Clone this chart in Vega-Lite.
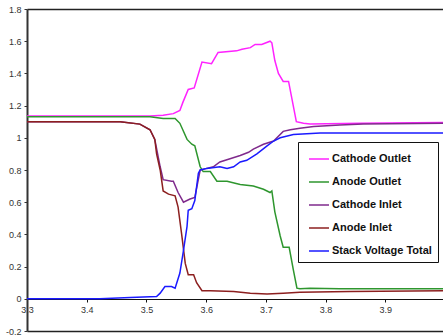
{
  "$schema": "https://vega.github.io/schema/vega-lite/v6.json",
  "autosize": "none",
  "width": 416,
  "height": 322,
  "padding": {"left": 27, "top": 9, "right": 0, "bottom": 4},
  "background": "white",
  "config": {
    "font": "Liberation Sans",
    "view": {"stroke": null}
  },
  "data": {
    "values": [
      {"s": "Cathode Outlet", "x": 3.300, "y": 1.135},
      {"s": "Cathode Outlet", "x": 3.464, "y": 1.135},
      {"s": "Cathode Outlet", "x": 3.506, "y": 1.135},
      {"s": "Cathode Outlet", "x": 3.528, "y": 1.14},
      {"s": "Cathode Outlet", "x": 3.545, "y": 1.15},
      {"s": "Cathode Outlet", "x": 3.556, "y": 1.17},
      {"s": "Cathode Outlet", "x": 3.561, "y": 1.22},
      {"s": "Cathode Outlet", "x": 3.570, "y": 1.30},
      {"s": "Cathode Outlet", "x": 3.580, "y": 1.31},
      {"s": "Cathode Outlet", "x": 3.593, "y": 1.47},
      {"s": "Cathode Outlet", "x": 3.609, "y": 1.46},
      {"s": "Cathode Outlet", "x": 3.620, "y": 1.53},
      {"s": "Cathode Outlet", "x": 3.651, "y": 1.54},
      {"s": "Cathode Outlet", "x": 3.660, "y": 1.55},
      {"s": "Cathode Outlet", "x": 3.674, "y": 1.56},
      {"s": "Cathode Outlet", "x": 3.682, "y": 1.58},
      {"s": "Cathode Outlet", "x": 3.693, "y": 1.58},
      {"s": "Cathode Outlet", "x": 3.707, "y": 1.60},
      {"s": "Cathode Outlet", "x": 3.710, "y": 1.59},
      {"s": "Cathode Outlet", "x": 3.715, "y": 1.48},
      {"s": "Cathode Outlet", "x": 3.721, "y": 1.40},
      {"s": "Cathode Outlet", "x": 3.729, "y": 1.35},
      {"s": "Cathode Outlet", "x": 3.738, "y": 1.35},
      {"s": "Cathode Outlet", "x": 3.751, "y": 1.10},
      {"s": "Cathode Outlet", "x": 3.763, "y": 1.09},
      {"s": "Cathode Outlet", "x": 3.774, "y": 1.085},
      {"s": "Cathode Outlet", "x": 3.858, "y": 1.09},
      {"s": "Cathode Outlet", "x": 3.997, "y": 1.095},

      {"s": "Anode Outlet", "x": 3.300, "y": 1.13},
      {"s": "Anode Outlet", "x": 3.506, "y": 1.13},
      {"s": "Anode Outlet", "x": 3.528, "y": 1.12},
      {"s": "Anode Outlet", "x": 3.548, "y": 1.12},
      {"s": "Anode Outlet", "x": 3.556, "y": 1.09},
      {"s": "Anode Outlet", "x": 3.568, "y": 0.99},
      {"s": "Anode Outlet", "x": 3.576, "y": 0.96},
      {"s": "Anode Outlet", "x": 3.581, "y": 0.95},
      {"s": "Anode Outlet", "x": 3.590, "y": 0.82},
      {"s": "Anode Outlet", "x": 3.595, "y": 0.79},
      {"s": "Anode Outlet", "x": 3.607, "y": 0.79},
      {"s": "Anode Outlet", "x": 3.618, "y": 0.73},
      {"s": "Anode Outlet", "x": 3.635, "y": 0.73},
      {"s": "Anode Outlet", "x": 3.657, "y": 0.71},
      {"s": "Anode Outlet", "x": 3.679, "y": 0.70},
      {"s": "Anode Outlet", "x": 3.696, "y": 0.68},
      {"s": "Anode Outlet", "x": 3.707, "y": 0.66},
      {"s": "Anode Outlet", "x": 3.710, "y": 0.67},
      {"s": "Anode Outlet", "x": 3.715, "y": 0.54},
      {"s": "Anode Outlet", "x": 3.724, "y": 0.39},
      {"s": "Anode Outlet", "x": 3.729, "y": 0.32},
      {"s": "Anode Outlet", "x": 3.739, "y": 0.32},
      {"s": "Anode Outlet", "x": 3.746, "y": 0.18},
      {"s": "Anode Outlet", "x": 3.752, "y": 0.066},
      {"s": "Anode Outlet", "x": 3.757, "y": 0.062},
      {"s": "Anode Outlet", "x": 3.774, "y": 0.065},
      {"s": "Anode Outlet", "x": 3.824, "y": 0.062},
      {"s": "Anode Outlet", "x": 3.997, "y": 0.062},

      {"s": "Cathode Inlet", "x": 3.300, "y": 1.10},
      {"s": "Cathode Inlet", "x": 3.456, "y": 1.10},
      {"s": "Cathode Inlet", "x": 3.489, "y": 1.085},
      {"s": "Cathode Inlet", "x": 3.506, "y": 1.05},
      {"s": "Cathode Inlet", "x": 3.514, "y": 0.99},
      {"s": "Cathode Inlet", "x": 3.523, "y": 0.82},
      {"s": "Cathode Inlet", "x": 3.528, "y": 0.74},
      {"s": "Cathode Inlet", "x": 3.542, "y": 0.73},
      {"s": "Cathode Inlet", "x": 3.545, "y": 0.73},
      {"s": "Cathode Inlet", "x": 3.553, "y": 0.66},
      {"s": "Cathode Inlet", "x": 3.562, "y": 0.60},
      {"s": "Cathode Inlet", "x": 3.573, "y": 0.62},
      {"s": "Cathode Inlet", "x": 3.581, "y": 0.63},
      {"s": "Cathode Inlet", "x": 3.590, "y": 0.80},
      {"s": "Cathode Inlet", "x": 3.601, "y": 0.81},
      {"s": "Cathode Inlet", "x": 3.612, "y": 0.82},
      {"s": "Cathode Inlet", "x": 3.623, "y": 0.85},
      {"s": "Cathode Inlet", "x": 3.640, "y": 0.87},
      {"s": "Cathode Inlet", "x": 3.657, "y": 0.89},
      {"s": "Cathode Inlet", "x": 3.671, "y": 0.91},
      {"s": "Cathode Inlet", "x": 3.679, "y": 0.93},
      {"s": "Cathode Inlet", "x": 3.696, "y": 0.96},
      {"s": "Cathode Inlet", "x": 3.713, "y": 0.98},
      {"s": "Cathode Inlet", "x": 3.729, "y": 1.04},
      {"s": "Cathode Inlet", "x": 3.741, "y": 1.05},
      {"s": "Cathode Inlet", "x": 3.757, "y": 1.06},
      {"s": "Cathode Inlet", "x": 3.780, "y": 1.07},
      {"s": "Cathode Inlet", "x": 3.824, "y": 1.08},
      {"s": "Cathode Inlet", "x": 3.863, "y": 1.085},
      {"s": "Cathode Inlet", "x": 3.997, "y": 1.09},

      {"s": "Anode Inlet", "x": 3.300, "y": 1.10},
      {"s": "Anode Inlet", "x": 3.456, "y": 1.10},
      {"s": "Anode Inlet", "x": 3.489, "y": 1.085},
      {"s": "Anode Inlet", "x": 3.506, "y": 1.05},
      {"s": "Anode Inlet", "x": 3.514, "y": 0.99},
      {"s": "Anode Inlet", "x": 3.517, "y": 0.90},
      {"s": "Anode Inlet", "x": 3.523, "y": 0.80},
      {"s": "Anode Inlet", "x": 3.528, "y": 0.67},
      {"s": "Anode Inlet", "x": 3.537, "y": 0.65},
      {"s": "Anode Inlet", "x": 3.548, "y": 0.64},
      {"s": "Anode Inlet", "x": 3.553, "y": 0.57},
      {"s": "Anode Inlet", "x": 3.559, "y": 0.40},
      {"s": "Anode Inlet", "x": 3.565, "y": 0.22},
      {"s": "Anode Inlet", "x": 3.570, "y": 0.15},
      {"s": "Anode Inlet", "x": 3.579, "y": 0.15},
      {"s": "Anode Inlet", "x": 3.584, "y": 0.10},
      {"s": "Anode Inlet", "x": 3.593, "y": 0.05},
      {"s": "Anode Inlet", "x": 3.607, "y": 0.05},
      {"s": "Anode Inlet", "x": 3.646, "y": 0.045},
      {"s": "Anode Inlet", "x": 3.674, "y": 0.035},
      {"s": "Anode Inlet", "x": 3.702, "y": 0.03},
      {"s": "Anode Inlet", "x": 3.729, "y": 0.035},
      {"s": "Anode Inlet", "x": 3.757, "y": 0.04},
      {"s": "Anode Inlet", "x": 3.841, "y": 0.045},
      {"s": "Anode Inlet", "x": 3.997, "y": 0.05},

      {"s": "Stack Voltage Total", "x": 3.300, "y": 0.0},
      {"s": "Stack Voltage Total", "x": 3.422, "y": 0.0},
      {"s": "Stack Voltage Total", "x": 3.473, "y": 0.008},
      {"s": "Stack Voltage Total", "x": 3.506, "y": 0.012},
      {"s": "Stack Voltage Total", "x": 3.517, "y": 0.014},
      {"s": "Stack Voltage Total", "x": 3.523, "y": 0.035},
      {"s": "Stack Voltage Total", "x": 3.531, "y": 0.076},
      {"s": "Stack Voltage Total", "x": 3.542, "y": 0.076},
      {"s": "Stack Voltage Total", "x": 3.548, "y": 0.066},
      {"s": "Stack Voltage Total", "x": 3.556, "y": 0.16},
      {"s": "Stack Voltage Total", "x": 3.562, "y": 0.30},
      {"s": "Stack Voltage Total", "x": 3.568, "y": 0.45},
      {"s": "Stack Voltage Total", "x": 3.570, "y": 0.55},
      {"s": "Stack Voltage Total", "x": 3.576, "y": 0.56},
      {"s": "Stack Voltage Total", "x": 3.581, "y": 0.61},
      {"s": "Stack Voltage Total", "x": 3.587, "y": 0.78},
      {"s": "Stack Voltage Total", "x": 3.590, "y": 0.80},
      {"s": "Stack Voltage Total", "x": 3.601, "y": 0.81},
      {"s": "Stack Voltage Total", "x": 3.623, "y": 0.82},
      {"s": "Stack Voltage Total", "x": 3.635, "y": 0.81},
      {"s": "Stack Voltage Total", "x": 3.646, "y": 0.82},
      {"s": "Stack Voltage Total", "x": 3.657, "y": 0.85},
      {"s": "Stack Voltage Total", "x": 3.668, "y": 0.86},
      {"s": "Stack Voltage Total", "x": 3.685, "y": 0.90},
      {"s": "Stack Voltage Total", "x": 3.702, "y": 0.95},
      {"s": "Stack Voltage Total", "x": 3.713, "y": 0.98},
      {"s": "Stack Voltage Total", "x": 3.724, "y": 1.00},
      {"s": "Stack Voltage Total", "x": 3.746, "y": 1.02},
      {"s": "Stack Voltage Total", "x": 3.791, "y": 1.03},
      {"s": "Stack Voltage Total", "x": 3.875, "y": 1.03},
      {"s": "Stack Voltage Total", "x": 3.997, "y": 1.03}
    ]
  },
  "mark": {"type": "line", "strokeWidth": 1.5, "clip": true},
  "encoding": {
    "x": {
      "field": "x", "type": "quantitative",
      "scale": {"domain": [3.3, 3.9966], "nice": false, "zero": false},
      "axis": {
        "title": null, "grid": false, "offset": -32,
        "values": [3.3, 3.4, 3.5, 3.6, 3.7, 3.8, 3.9],
        "format": ".1f", "labelFlush": false, "labelOverlap": false,
        "domainColor": "#111", "domainWidth": 1,
        "tickColor": "#111", "tickSize": 3,
        "labelFontSize": 9, "labelColor": "#333", "labelPadding": 3
      }
    },
    "y": {
      "field": "y", "type": "quantitative",
      "scale": {"domain": [-0.2, 1.8], "nice": false, "zero": false},
      "axis": {
        "title": null, "grid": true,
        "gridColor": {"condition": {"test": "datum.value <= -0.19 || datum.value >= 1.79", "value": "#222"}, "value": "transparent"},
        "gridWidth": 1.5,
        "values": [-0.2, 0, 0.2, 0.4, 0.6, 0.8, 1, 1.2, 1.4, 1.6, 1.8],
        "labelExpr": "replace(format(datum.value, '.1~f'), '\u2212', '-')",
        "labelFlush": false, "labelOverlap": false,
        "domainColor": "#333", "domainWidth": 2,
        "tickColor": "#333", "tickSize": 3,
        "labelFontSize": 9, "labelColor": "#333", "labelPadding": 3
      }
    },
    "color": {
      "field": "s", "type": "nominal",
      "scale": {
        "domain": ["Cathode Outlet", "Anode Outlet", "Cathode Inlet", "Anode Inlet", "Stack Voltage Total"],
        "range": ["#ff22ff", "#2e962e", "#7f2a8c", "#8c1f1f", "#1a1aff"]
      },
      "legend": {
        "title": null,
        "orient": "none", "legendX": 271, "legendY": 133,
        "direction": "vertical",
        "strokeColor": "#111", "fillColor": "white",
        "padding": 6, "rowPadding": 7,
        "symbolType": "stroke", "symbolSize": 400, "symbolStrokeWidth": 1.5,
        "symbolOffset": 4,
        "labelFontSize": 11, "labelFontWeight": "bold", "labelColor": "#111",
        "labelOffset": 2, "labelLimit": 200
      }
    }
  }
}
